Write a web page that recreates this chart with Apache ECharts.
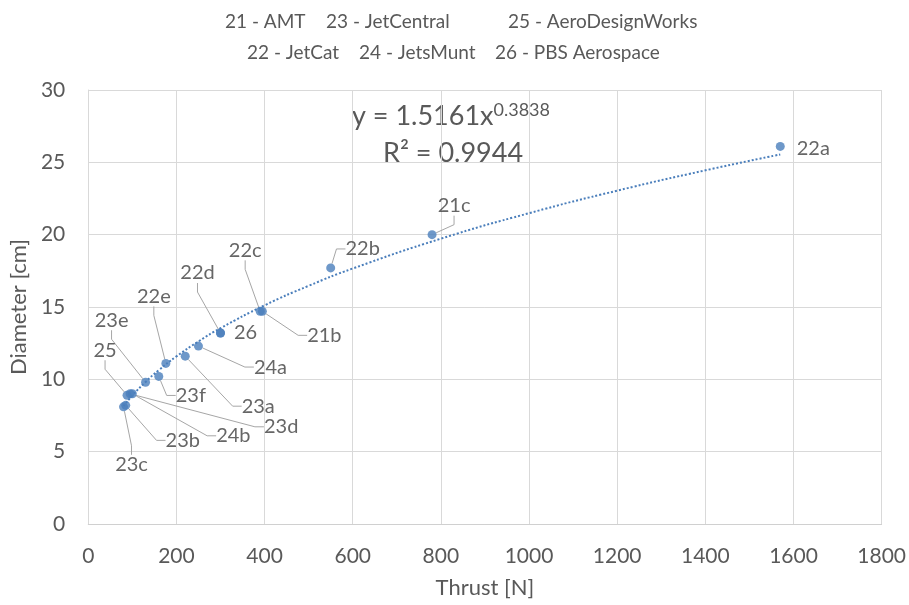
<!DOCTYPE html>
<html><head><meta charset="utf-8">
<script src="https://cdn.jsdelivr.net/npm/echarts@6/dist/echarts.min.js"></script>
<style>html,body{margin:0;padding:0;background:#fff}#c{width:909px;height:605px}</style>
</head><body><div id="c"></div>
<script>
// ---- data ----
const engineIds  = ['22a','21c','22b','22c','21b','22d','26','24a','23a','22e','23f','23e','25','23d','24b','23b','23c'];
const thrustN    = [1570, 780, 550, 390, 395, 300, 300, 250, 220, 176, 160, 130, 88, 95, 100, 85, 80];
const diameterCm = [26.1, 20.0, 17.7, 14.7, 14.7, 13.2, 13.2, 12.3, 11.6, 11.1, 10.2, 9.8, 8.9, 9.0, 9.0, 8.2, 8.1];
const xTicks = [0, 200, 400, 600, 800, 1000, 1200, 1400, 1600, 1800];
const yTicks = [0, 5, 10, 15, 20, 25, 30];
const legendLine1 = ['21 - AMT', '23 - JetCentral', '25 - AeroDesignWorks'];
const legendLine2 = ['22 - JetCat', '24 - JetsMunt', '26 - PBS Aerospace'];
// power trendline shown in the chart: y = 1.5161 x^0.3838, R² = 0.9944
const trendA = 1.5161, trendB = 0.3838, trendR2 = '0.9944';
const trendX = [80, 100, 130, 160, 200, 250, 300, 400, 500, 600, 800, 1000, 1200, 1400, 1570];

// ---- label layout (offsets from point centre in px, leader line on/off) ----
const labelOffsets = {
  '22a': [33, 2, false], '21c': [22, -29, true], '22b': [32, -19, true], '22c': [-15, -61, true],
  '21b': [62, 24, true], '22d': [-23, -60, true], '26': [25, 0, false], '24a': [72, 21, true],
  '23a': [73, 50, true], '22e': [-12, -67, true], '23f': [32, 19, true], '23e': [-34, -62, true],
  '25': [-22, -45, true], '23d': [151, 33, true], '24b': [101, 42, true], '23b': [57, 35, true],
  '23c': [8, 58, true]
};

const FONT = 'Lato, "Open Sans", sans-serif';
const GRAY = '#595959';
const BLUE = '#4a7ebb';

const scatterData = engineIds.map((id, i) => ({
  name: id,
  value: [thrustN[i], diameterCm[i]],
  labelLine: { show: labelOffsets[id][2] }
}));
const trendData = trendX.map(x => [x, trendA * Math.pow(x, trendB)]);

const legendX1 = [225, 326, 508];
const legendX2 = [247, 359, 495];
const graphics = [];
legendLine1.forEach((t, i) => graphics.push({ type: 'text', x: legendX1[i], y: 22,
  style: { text: t, fontSize: 19, fontFamily: FONT, fill: GRAY, verticalAlign: 'middle' } }));
legendLine2.forEach((t, i) => graphics.push({ type: 'text', x: legendX2[i], y: 53,
  style: { text: t, fontSize: 19, fontFamily: FONT, fill: GRAY, verticalAlign: 'middle' } }));
graphics.push({ type: 'text', x: 352, y: 116, style: {
  text: '{m|y = ' + trendA + 'x}{s|' + trendB + '}', fontFamily: FONT, fill: GRAY, verticalAlign: 'middle',
  rich: { m: { fontSize: 27, fontFamily: FONT, fill: GRAY, lineHeight: 30 },
          s: { fontSize: 18, fontFamily: FONT, fill: GRAY, verticalAlign: 'top', lineHeight: 18 } } } });
graphics.push({ type: 'text', x: 383, y: 153, style: {
  text: 'R\u00b2 = ' + trendR2, fontSize: 27, fontFamily: FONT, fill: GRAY, verticalAlign: 'middle' } });

const chart = echarts.init(document.getElementById('c'));
chart.setOption({
  animation: false,
  backgroundColor: '#fff',
  grid: { left: 88, right: 26, top: 90, bottom: 81, containLabel: false },
  graphic: graphics,
  xAxis: {
    type: 'value', min: xTicks[0], max: xTicks[xTicks.length - 1], interval: xTicks[1] - xTicks[0],
    name: 'Thrust [N]', nameLocation: 'middle', nameGap: 53,
    nameTextStyle: { fontSize: 22, fontFamily: FONT, color: GRAY },
    axisLine: { show: true, lineStyle: { color: '#d0d0d0' } },
    axisTick: { show: false },
    axisLabel: { fontSize: 21, fontFamily: FONT, color: GRAY, margin: 22, formatter: v => String(v) },
    splitLine: { show: true, lineStyle: { color: '#d9d9d9' } }
  },
  yAxis: {
    type: 'value', min: yTicks[0], max: yTicks[yTicks.length - 1], interval: yTicks[1] - yTicks[0],
    name: 'Diameter [cm]', nameLocation: 'middle', nameGap: 56,
    nameTextStyle: { fontSize: 22, fontFamily: FONT, color: GRAY },
    axisLine: { show: true, lineStyle: { color: '#d9d9d9' } },
    axisTick: { show: false },
    axisLabel: { fontSize: 21, fontFamily: FONT, color: GRAY, margin: 23, formatter: v => String(v) },
    splitLine: { show: true, lineStyle: { color: '#d9d9d9' } }
  },
  series: [
    {
      type: 'line', data: trendData, smooth: true, showSymbol: false, silent: true, z: 1,
      lineStyle: { type: 'dotted', width: 2, color: BLUE }
    },
    {
      type: 'scatter', data: scatterData, symbolSize: 9, z: 3,
      itemStyle: { color: BLUE },
      label: { show: true, formatter: p => p.name, fontSize: 20, fontFamily: FONT, color: '#404040' },
      labelLine: { show: true, length2: 9, lineStyle: { color: '#a6a6a6', width: 1 } },
      labelLayout: function (params) {
        const o = labelOffsets[engineIds[params.dataIndex]];
        return {
          x: params.rect.x + params.rect.width / 2 + o[0],
          y: params.rect.y + params.rect.height / 2 + o[1],
          align: 'center', verticalAlign: 'middle'
        };
      }
    }
  ]
});
</script>
</body></html>
